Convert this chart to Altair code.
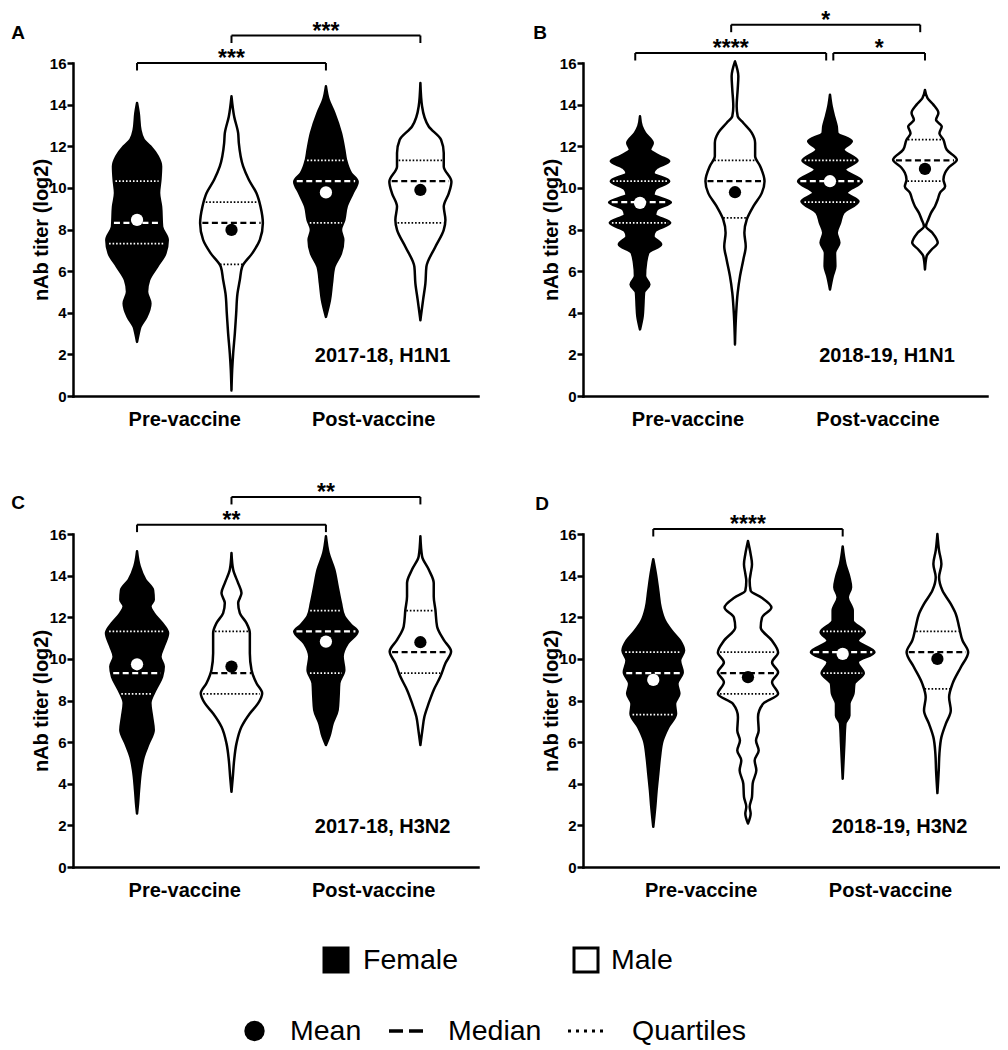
import altair as alt
import pandas as pd
import numpy as np

FONT = "Liberation Sans"

# ---------------- data ----------------
GROUP_LABELS = ["Pre-vaccine", "Post-vaccine"]
SEXES = ["Female", "Male"]
PANEL_LETTERS = ["A", "B", "C", "D"]
SUBTITLES = ["2017-18, H1N1", "2018-19, H1N1", "2017-18, H3N2", "2018-19, H3N2"]

# violin outlines: (log2 titer, relative half-width of density)
A_PRE_F = [(14.08, 0), (13.6, 5), (12.79, 10), (12.31, 20), (11.99, 40), (11.51, 62), (11.03, 72),
           (10.39, 70), (9.75, 66), (9.1, 72), (8.14, 75), (7.5, 92), (6.85, 85), (6.21, 60),
           (5.57, 36), (5.01, 30), (4.45, 40), (3.8, 28), (3.32, 10), (3.0, 5), (2.6, 0)]
A_PRE_M = [(14.4, 0), (13.43, 8), (12.63, 20), (12.15, 22), (11.03, 35), (10.39, 52), (9.74, 75),
           (9.1, 87), (8.3, 94), (7.5, 85), (6.85, 62), (6.21, 32), (5.57, 25), (4.93, 18),
           (3.96, 14), (3.0, 10), (2.04, 5), (1.24, 2), (0.27, 0)]
A_POST_F = [(14.88, 0), (14.24, 8), (13.6, 25), (12.63, 45), (11.83, 55), (11.35, 60), (10.71, 75),
            (10.3, 95), (9.74, 80), (9.1, 62), (8.46, 55), (7.98, 45), (7.5, 52), (6.85, 45),
            (6.21, 25), (5.41, 18), (4.61, 12), (3.8, 0)]
A_POST_M = [(15.04, 0), (13.92, 5), (12.95, 25), (12.31, 62), (11.67, 70), (11.03, 70), (10.3, 93),
            (9.74, 85), (9.1, 70), (8.46, 75), (7.98, 70), (7.17, 45), (6.21, 18), (5.41, 15),
            (4.61, 8), (3.64, 0)]

B_PRE_F = [(13.44, 0), (12.96, 5), (12.64, 15), (12.16, 38), (11.84, 30), (11.52, 60), (11.28, 87),
           (10.96, 50), (10.72, 40), (10.32, 87), (9.92, 45), (9.68, 40), (9.31, 92), (8.96, 50),
           (8.72, 45), (8.32, 90), (7.92, 45), (7.68, 40), (7.28, 63), (6.88, 25), (6.4, 18),
           (5.76, 15), (5.36, 28), (4.96, 12), (4.32, 10), (3.84, 8), (3.2, 0)]
B_PRE_M = [(16.08, 0), (15.36, 10), (14.72, 8), (13.92, 5), (13.44, 8), (13.12, 25), (12.64, 50),
           (12.16, 60), (11.52, 60), (11.04, 75), (10.32, 88), (9.76, 80), (9.12, 55), (8.48, 35),
           (7.84, 28), (7.2, 32), (6.56, 25), (5.76, 15), (4.96, 8), (3.84, 3), (2.48, 0)]
B_POST_F = [(14.48, 0), (13.92, 5), (13.44, 12), (12.96, 20), (12.64, 22), (12.24, 65), (11.84, 40),
            (11.31, 82), (10.88, 45), (10.32, 95), (9.76, 50), (9.36, 85), (8.8, 40), (8.32, 30),
            (7.84, 20), (7.36, 28), (6.88, 15), (6.24, 16), (5.76, 8), (5.12, 0)]
B_POST_M = [(14.7, 0), (14.3, 8), (14.0, 25), (13.6, 40), (13.27, 33), (12.95, 50), (12.63, 43),
            (12.31, 55), (11.83, 65), (11.35, 95), (10.97, 70), (10.73, 60), (10.4, 55), (10.07, 60),
            (9.77, 45), (9.44, 38), (9.12, 30), (8.8, 18), (8.48, 10), (8.16, 3), (7.84, 22),
            (7.36, 38), (7.04, 20), (6.72, 5), (6.08, 0)]

C_PRE_F = [(15.17, 0), (14.45, 8), (13.8, 25), (13.3, 48), (12.84, 50), (12.52, 40), (12.2, 50),
           (11.72, 75), (11.24, 93), (10.6, 80), (10.1, 70), (9.63, 80), (9.15, 75), (8.5, 55),
           (7.87, 40), (7.22, 45), (6.58, 50), (5.94, 35), (5.3, 20), (4.65, 12), (3.69, 6),
           (3.05, 3), (2.57, 0)]
C_PRE_M = [(15.09, 0), (14.29, 5), (13.64, 20), (13.16, 30), (12.68, 20), (12.2, 25), (11.72, 45),
           (11.24, 55), (10.27, 55), (9.47, 60), (8.83, 75), (8.35, 92), (7.87, 80), (7.38, 55),
           (6.74, 30), (5.94, 15), (5.14, 8), (4.33, 4), (3.61, 0)]
C_POST_F = [(15.89, 0), (15.09, 8), (14.29, 25), (13.48, 35), (12.68, 45), (12.04, 55), (11.64, 75),
            (11.32, 95), (10.75, 65), (10.11, 50), (9.47, 55), (8.83, 40), (8.19, 38), (7.54, 35),
            (6.9, 20), (6.26, 10), (5.86, 0)]
C_POST_M = [(15.89, 0), (14.93, 5), (14.29, 25), (13.64, 40), (13.0, 40), (12.36, 45), (11.56, 50),
            (10.91, 70), (10.35, 92), (9.79, 75), (9.15, 60), (8.51, 40), (7.87, 25), (7.22, 12),
            (6.58, 6), (5.86, 0)]

D_PRE_F = [(14.79, 0), (14.07, 8), (13.27, 15), (12.47, 22), (11.83, 35), (11.35, 55), (10.87, 80),
           (10.4, 92), (9.92, 80), (9.36, 88), (8.8, 72), (8.32, 78), (7.84, 65), (7.36, 68),
           (6.72, 45), (6.08, 28), (5.28, 20), (4.49, 15), (3.69, 10), (2.89, 6), (1.93, 0)]
D_PRE_M = [(15.66, 0), (15.03, 8), (14.55, 12), (14.1, 8), (13.75, 5), (13.27, 8), (12.95, 40),
           (12.47, 70), (11.99, 42), (11.51, 38), (10.87, 72), (10.31, 90), (9.83, 72), (9.36, 90),
           (8.88, 72), (8.32, 90), (7.84, 45), (7.2, 30), (6.56, 32), (6.08, 24), (5.6, 32),
           (5.12, 20), (4.65, 25), (4.01, 14), (3.37, 12), (2.89, 5), (2.57, 8), (2.09, 0)]
D_POST_F = [(15.4, 0), (14.56, 8), (13.92, 20), (13.44, 25), (12.96, 15), (12.32, 30), (11.84, 30),
            (11.28, 66), (10.88, 45), (10.32, 95), (9.84, 45), (9.31, 63), (8.8, 35), (8.32, 32),
            (7.84, 20), (7.28, 20), (6.88, 8), (5.92, 5), (4.24, 0)]
D_POST_M = [(16.0, 0), (15.2, 5), (14.56, 12), (13.92, 5), (13.28, 15), (12.64, 40), (12.16, 55),
            (11.52, 65), (10.88, 75), (10.32, 92), (9.6, 70), (8.8, 45), (8.16, 35), (7.52, 40),
            (6.88, 25), (6.24, 12), (5.44, 6), (4.64, 4), (3.55, 0)]

# summary statistics, order: Pre Female, Pre Male, Post Female, Post Male
A_MEAN = [8.46, 7.98, 9.78, 9.90]
A_MEDIAN = [8.32, 8.32, 10.32, 10.32]
A_Q1 = [7.32, 6.32, 8.32, 8.32]
A_Q3 = [10.32, 9.32, 11.32, 11.32]

B_MEAN = [9.28, 9.79, 10.32, 10.91]
B_MEDIAN = [9.32, 10.32, 10.32, 11.32]
B_Q1 = [8.32, 8.56, 9.32, 10.32]
B_Q3 = [10.32, 11.32, 11.32, 12.32]

C_MEAN = [9.74, 9.63, 10.83, 10.80]
C_MEDIAN = [9.32, 9.32, 11.32, 10.32]
C_Q1 = [8.32, 8.32, 9.32, 9.32]
C_Q3 = [11.32, 11.32, 12.32, 12.32]

D_MEAN = [8.99, 9.12, 10.24, 10.00]
D_MEDIAN = [9.32, 9.32, 10.32, 10.32]
D_Q1 = [7.32, 8.32, 9.32, 8.56]
D_Q3 = [10.32, 10.32, 11.32, 11.32]

# significance brackets: (from position, to position, height, label)
A_SIG = [(1, 3, 16.0, "***"), (2, 4, 17.32, "***")]
B_SIG = [(0.95, 2.96, 16.48, "****"), (3.035, 4.0, 16.48, "*"), (1.96, 3.95, 17.84, "*")]
C_SIG = [(1, 3, 16.45, "**"), (2, 4, 17.78, "**")]
D_SIG = [(1, 3, 16.24, "****")]

LEGEND_SEX = ["Female", "Male"]
LEGEND_STATS = ["Mean", "Median", "Quartiles"]

# ---------------- layout / style ----------------
WSCALE = 1 / 283.0          # relative width -> x units
DROP = 0.36                 # bracket end length (y units)
STAR_GAP = 0.46
PANEL_X_DOMAIN = {"A": [0.322, 4.61], "B": [0.4, 4.653], "C": [0.322, 4.61], "D": [0.258, 4.661]}
PANEL_W = {"A": 405, "B": 404, "C": 405, "D": 417}
PANEL_H = 333
LETTER_POS = {"A": (-55, -30), "B": (-43, -30), "C": (-55, -31), "D": (-41, -30)}
ANNOT_POS = (3.6, 1.9)
ROW_GAP, COL_GAP = 138, 93

PANELS = {
    "A": ([A_PRE_F, A_PRE_M, A_POST_F, A_POST_M], A_MEAN, A_MEDIAN, A_Q1, A_Q3, A_SIG),
    "B": ([B_PRE_F, B_PRE_M, B_POST_F, B_POST_M], B_MEAN, B_MEDIAN, B_Q1, B_Q3, B_SIG),
    "C": ([C_PRE_F, C_PRE_M, C_POST_F, C_POST_M], C_MEAN, C_MEDIAN, C_Q1, C_Q3, C_SIG),
    "D": ([D_PRE_F, D_PRE_M, D_POST_F, D_POST_M], D_MEAN, D_MEDIAN, D_Q1, D_Q3, D_SIG),
}


def make_panel(letter, subtitle):
    violins, means, medians, q1s, q3s, sigs = PANELS[letter]
    xdom = PANEL_X_DOMAIN[letter]
    xscale = alt.Scale(domain=xdom, nice=False, zero=False)
    yscale = alt.Scale(domain=[0, 16], nice=False, zero=False)
    xaxis = alt.Axis(values=[1.5, 3.5],
                     labelExpr="datum.value < 2.5 ? 'Pre-vaccine' : 'Post-vaccine'",
                     ticks=False, tickSize=0, labelPadding=13, labelFont=FONT, labelFontSize=20,
                     labelFontWeight="bold", labelColor="black", domainColor="black",
                     domainWidth=2.5, domainCap="square", grid=False, title=None,
                     labelFlush=False, labelOverlap=False)
    yaxis = alt.Axis(values=list(range(0, 17, 2)), title="nAb titer (log2)", titleFont=FONT,
                     titleFontSize=20, titleFontWeight="bold", titleColor="black",
                     labelFont=FONT, labelFontSize=15, labelFontWeight="bold", labelColor="black",
                     tickSize=6, tickWidth=2.5, tickColor="black", domainColor="black",
                     domainWidth=2.5, domainCap="square", grid=False, labelPadding=1,
                     titlePadding=5, minExtent=17, maxExtent=17)

    def X(f):
        return alt.X(f, type="quantitative", scale=xscale, axis=xaxis)

    def Y(f):
        return alt.Y(f, type="quantitative", scale=yscale, axis=yaxis)

    vrows, lrows, mrows = [], [], []
    for i, pts in enumerate(violins):
        xc = i + 1
        female = (i % 2 == 0)
        fill = "black" if female else "white"
        line_col = "white" if female else "black"
        pts_sorted = sorted(pts)
        ys = np.array([p[0] for p in pts_sorted])
        ws = np.array([p[1] for p in pts_sorted])
        for y, w in pts_sorted:
            vrows.append({"vid": f"{letter}{i}", "y": y, "lo": xc - w * WSCALE,
                          "hi": xc + w * WSCALE, "fill": fill})
        for kind, val in (("median", medians[i]), ("q", q1s[i]), ("q", q3s[i])):
            hw = float(np.interp(val, ys, ws)) * WSCALE * 0.93
            lrows.append({"kind": kind, "y": val, "lo": xc - hw, "hi": xc + hw, "col": line_col})
        mrows.append({"x": xc, "y": means[i], "col": line_col})

    vdf = pd.DataFrame(vrows)
    ldf = pd.DataFrame(lrows)
    mdf = pd.DataFrame(mrows)

    srows, drows, trows = [], [], []
    for (a, b, h, lab) in sigs:
        srows.append({"x1": a, "x2": b, "y": h})
        drows.append({"x": a, "y1": h, "y2": h - DROP})
        drows.append({"x": b, "y1": h, "y2": h - DROP})
        trows.append({"x": (a + b) / 2, "y": h + STAR_GAP, "t": lab})
    sdf, ddf, tdf = pd.DataFrame(srows), pd.DataFrame(drows), pd.DataFrame(trows)

    area = alt.Chart(vdf).mark_area(orient="horizontal", interpolate="monotone", stroke="black",
                                    strokeWidth=2.5, strokeJoin="round").encode(
        y=Y("y"), x=X("lo"), x2="hi", detail="vid:N", fill=alt.Fill("fill:N", scale=None))

    quart = alt.Chart(ldf).transform_filter("datum.kind == 'q'").mark_rule(
        strokeDash=[1.6, 1.9], strokeWidth=1.7).encode(
        y=Y("y"), x=X("lo"), x2="hi", stroke=alt.Stroke("col:N", scale=None))
    med = alt.Chart(ldf).transform_filter("datum.kind == 'median'").mark_rule(
        strokeDash=[6, 3.5], strokeWidth=2.2).encode(
        y=Y("y"), x=X("lo"), x2="hi", stroke=alt.Stroke("col:N", scale=None))
    mean = alt.Chart(mdf).mark_circle(size=150, opacity=1).encode(
        x=X("x"), y=Y("y"), color=alt.Color("col:N", scale=None))

    hline = alt.Chart(sdf).mark_rule(strokeWidth=2, color="black").encode(
        x=X("x1"), x2="x2", y=Y("y"))
    vline = alt.Chart(ddf).mark_rule(strokeWidth=2, color="black").encode(
        x=X("x"), y=Y("y1"), y2="y2")
    stars = alt.Chart(tdf).mark_text(font=FONT, fontSize=23, fontWeight="bold", color="black",
                                     baseline="middle", dy=6).encode(
        x=X("x"), y=Y("y"), text="t:N")

    lx, ly = LETTER_POS[letter]
    letter_df = pd.DataFrame({"t": [letter]})
    letter_txt = alt.Chart(letter_df).mark_text(font=FONT, fontSize=19, fontWeight="bold",
                                                color="black", baseline="middle").encode(
        x=alt.value(lx), y=alt.value(ly), text="t:N")

    annot_df = pd.DataFrame({"t": [subtitle], "x": [ANNOT_POS[0]], "y": [ANNOT_POS[1]]})
    annot = alt.Chart(annot_df).mark_text(font=FONT, fontSize=20, fontWeight="bold",
                                          color="black", baseline="middle").encode(
        x=X("x"), y=Y("y"), text="t:N")

    return alt.layer(area, quart, med, mean, hline, vline, stars, letter_txt, annot).properties(
        width=PANEL_W[letter], height=PANEL_H)


pA = make_panel("A", SUBTITLES[0])
pB = make_panel("B", SUBTITLES[1])
pC = make_panel("C", SUBTITLES[2])
pD = make_panel("D", SUBTITLES[3])

# ---------------- legend ----------------
# legend drawn in page-pixel coordinates through its own linear scales
LX0, LW = 73, 400
LY0, LH = 1005, 10
LEG_SQ_X = {"Female": 336, "Male": 586}
LEG_SQ_TX = {"Female": 363, "Male": 611}
LEG_ROW1_Y = 960
LEG_ROW2_Y = 1031
LEG_STAT_TX = {"Mean": 290, "Median": 448, "Quartiles": 632}
MEAN_DOT_X = 254.5
MEDIAN_SEG = (389, 423)
QUART_SEG = (568, 603)

lxs = alt.Scale(domain=[LX0, LX0 + LW], nice=False, zero=False)
lys = alt.Scale(domain=[LY0, LY0 + LH], nice=False, zero=False, reverse=True)


def LX(f):
    return alt.X(f, type="quantitative", scale=lxs, axis=None)


def LY(f):
    return alt.Y(f, type="quantitative", scale=lys, axis=None)


sex_df = pd.DataFrame({"label": LEGEND_SEX,
                       "x": [LEG_SQ_X[s] for s in LEGEND_SEX],
                       "tx": [LEG_SQ_TX[s] for s in LEGEND_SEX],
                       "y": [LEG_ROW1_Y] * 2})
stat_df = pd.DataFrame({"label": LEGEND_STATS,
                        "tx": [LEG_STAT_TX[s] for s in LEGEND_STATS],
                        "y": [LEG_ROW2_Y] * 3})

fem_sq = alt.Chart(sex_df).transform_filter("datum.label == 'Female'").mark_point(
    shape="square", filled=True, size=729, color="black", opacity=1).encode(x=LX("x"), y=LY("y"))
male_sq = alt.Chart(sex_df).transform_filter("datum.label == 'Male'").mark_point(
    shape="square", filled=False, size=576, color="black", strokeWidth=3, opacity=1).encode(
    x=LX("x"), y=LY("y"))
sex_txt = alt.Chart(sex_df).mark_text(font=FONT, fontSize=28.5, align="left", baseline="middle",
                                      color="black").encode(x=LX("tx"), y=LY("y"), text="label:N")
stat_txt = alt.Chart(stat_df).mark_text(font=FONT, fontSize=28.5, align="left", baseline="middle",
                                        color="black").encode(x=LX("tx"), y=LY("y"), text="label:N")
mean_dot = alt.Chart(stat_df).transform_filter("datum.label == 'Mean'").transform_calculate(
    cx=str(MEAN_DOT_X)).mark_circle(size=415, color="black", opacity=1).encode(
    x=LX("cx"), y=LY("y"))
med_seg = alt.Chart(stat_df).transform_filter("datum.label == 'Median'").transform_calculate(
    a=str(MEDIAN_SEG[0]), b=str(MEDIAN_SEG[1])).mark_rule(
    strokeWidth=3.5, strokeDash=[14, 6], color="black").encode(x=LX("a"), x2="b", y=LY("y"))
q_seg = alt.Chart(stat_df).transform_filter("datum.label == 'Quartiles'").transform_calculate(
    a=str(QUART_SEG[0]), b=str(QUART_SEG[1])).mark_rule(
    strokeWidth=3, strokeDash=[3, 5], color="black").encode(x=LX("a"), x2="b", y=LY("y"))

legend = alt.layer(fem_sq, male_sq, sex_txt, stat_txt, mean_dot, med_seg, q_seg).properties(
    width=LW, height=LH)

chart = alt.concat(pA, pB, pC, pD, legend, columns=2,
                   spacing={"row": ROW_GAP, "column": COL_GAP},
                   bounds="flush", align="all").properties(
    padding={"left": 3, "top": 2, "right": 0, "bottom": 0}
).configure_view(stroke=None)

chart.save("out.html", embed_options={"renderer": "svg", "actions": False})
